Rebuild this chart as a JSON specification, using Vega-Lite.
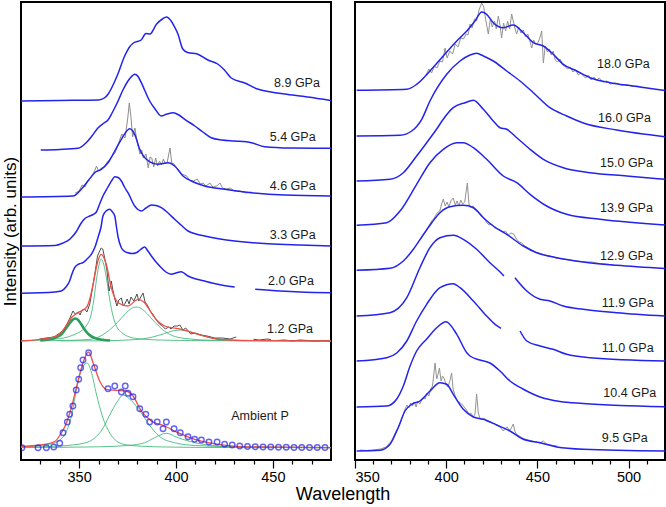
{
  "$schema": "https://vega.github.io/schema/vega-lite/v6.json",
  "padding": {"left": 0, "top": 1, "right": 1, "bottom": 2},
  "config": {
    "view": {"stroke": "black", "strokeWidth": 2},
    "font": "Liberation Sans",
    "axis": {"labelFont": "Liberation Sans", "titleFont": "Liberation Sans", "labelColor": "black", "titleColor": "black", "tickColor": "black"}
  },
  "title": {"text": "Wavelength", "orient": "bottom", "anchor": "middle", "fontSize": 18, "fontWeight": "normal", "font": "Liberation Sans", "color": "black", "offset": 1, "dx": 10},
  "spacing": 21,
  "datasets": {
    "L": [
      {"s":"8.9","k":"b","w":320,"i":358},{"s":"8.9","k":"b","w":340,"i":358.5},{"s":"8.9","k":"b","w":360,"i":359},{"s":"8.9","k":"b","w":363,"i":361},{"s":"8.9","k":"b","w":365,"i":365},{"s":"8.9","k":"b","w":368,"i":376},{"s":"8.9","k":"b","w":370,"i":385},{"s":"8.9","k":"b","w":373.5,"i":403},{"s":"8.9","k":"b","w":376,"i":412},{"s":"8.9","k":"b","w":378,"i":416},{"s":"8.9","k":"b","w":382,"i":419},{"s":"8.9","k":"b","w":384.5,"i":425.5},{"s":"8.9","k":"b","w":386.5,"i":425},{"s":"8.9","k":"b","w":390,"i":435},{"s":"8.9","k":"b","w":393,"i":440},{"s":"8.9","k":"b","w":395,"i":442},{"s":"8.9","k":"b","w":397.5,"i":438},{"s":"8.9","k":"b","w":399,"i":433},{"s":"8.9","k":"b","w":401,"i":425},{"s":"8.9","k":"b","w":403.5,"i":410},{"s":"8.9","k":"b","w":406,"i":406.5},{"s":"8.9","k":"b","w":411,"i":405},{"s":"8.9","k":"b","w":416.5,"i":399},{"s":"8.9","k":"b","w":421.5,"i":395},{"s":"8.9","k":"b","w":425,"i":389},{"s":"8.9","k":"b","w":428.5,"i":381},{"s":"8.9","k":"b","w":435.5,"i":376},{"s":"8.9","k":"b","w":442,"i":370},{"s":"8.9","k":"b","w":449,"i":367},{"s":"8.9","k":"b","w":456,"i":365},{"s":"8.9","k":"b","w":468,"i":362},{"s":"8.9","k":"b","w":480,"i":358.5},

      {"s":"5.4","k":"b","w":330.2,"i":309},{"s":"5.4","k":"b","w":340,"i":309.5},{"s":"5.4","k":"b","w":349.4,"i":310.7},{"s":"5.4","k":"b","w":353.5,"i":316},{"s":"5.4","k":"b","w":356.6,"i":323},{"s":"5.4","k":"b","w":359.7,"i":331},{"s":"5.4","k":"b","w":362.8,"i":336},{"s":"5.4","k":"b","w":364.9,"i":339},{"s":"5.4","k":"b","w":367,"i":346},{"s":"5.4","k":"b","w":370.1,"i":358},{"s":"5.4","k":"b","w":372.6,"i":369},{"s":"5.4","k":"b","w":375.2,"i":378},{"s":"5.4","k":"b","w":376.8,"i":382},{"s":"5.4","k":"b","w":378.7,"i":384.7},{"s":"5.4","k":"b","w":380.4,"i":382.5},{"s":"5.4","k":"b","w":382.1,"i":376.3},{"s":"5.4","k":"b","w":384,"i":368},{"s":"5.4","k":"b","w":386.4,"i":358},{"s":"5.4","k":"b","w":389.2,"i":350},{"s":"5.4","k":"b","w":392.4,"i":343},{"s":"5.4","k":"b","w":395.4,"i":345},{"s":"5.4","k":"b","w":398.5,"i":346.3},{"s":"5.4","k":"b","w":401.5,"i":344},{"s":"5.4","k":"b","w":404.5,"i":339.7},{"s":"5.4","k":"b","w":409.7,"i":333},{"s":"5.4","k":"b","w":413.9,"i":327},{"s":"5.4","k":"b","w":418.2,"i":321.3},{"s":"5.4","k":"b","w":423.7,"i":319},{"s":"5.4","k":"b","w":430.3,"i":318},{"s":"5.4","k":"b","w":438.9,"i":316.3},{"s":"5.4","k":"b","w":445.8,"i":312.3},{"s":"5.4","k":"b","w":458.8,"i":311},{"s":"5.4","k":"b","w":480,"i":310.7},

      {"s":"4.6","k":"b","w":320,"i":262},{"s":"4.6","k":"b","w":346.8,"i":263},{"s":"4.6","k":"b","w":351.1,"i":269.7},{"s":"4.6","k":"b","w":354.6,"i":278},{"s":"4.6","k":"b","w":358,"i":286.3},{"s":"4.6","k":"b","w":361.4,"i":289.7},{"s":"4.6","k":"b","w":364.9,"i":296.3},{"s":"4.6","k":"b","w":368.4,"i":308},{"s":"4.6","k":"b","w":371.8,"i":319.7},{"s":"4.6","k":"b","w":376.1,"i":330.3},{"s":"4.6","k":"b","w":378.7,"i":324.7},{"s":"4.6","k":"b","w":381.3,"i":309.7},{"s":"4.6","k":"b","w":384.7,"i":299.7},{"s":"4.6","k":"b","w":390.7,"i":294.7},{"s":"4.6","k":"b","w":395.9,"i":296.3},{"s":"4.6","k":"b","w":399.3,"i":293},{"s":"4.6","k":"b","w":403.6,"i":283},{"s":"4.6","k":"b","w":407.9,"i":278},{"s":"4.6","k":"b","w":414.8,"i":273},{"s":"4.6","k":"b","w":425.1,"i":269.7},{"s":"4.6","k":"b","w":438.9,"i":266.3},{"s":"4.6","k":"b","w":456.1,"i":264},{"s":"4.6","k":"b","w":480,"i":263},

      {"s":"4.6n","k":"n","w":348,"i":266},{"s":"4.6n","k":"n","w":350,"i":268},{"s":"4.6n","k":"n","w":351.5,"i":274},{"s":"4.6n","k":"n","w":353,"i":272},{"s":"4.6n","k":"n","w":354.5,"i":279},{"s":"4.6n","k":"n","w":356,"i":281},{"s":"4.6n","k":"n","w":357.5,"i":286},{"s":"4.6n","k":"n","w":359,"i":293},{"s":"4.6n","k":"n","w":360,"i":288},{"s":"4.6n","k":"n","w":361.5,"i":291},{"s":"4.6n","k":"n","w":363,"i":292},{"s":"4.6n","k":"n","w":364.5,"i":297},{"s":"4.6n","k":"n","w":366,"i":300},{"s":"4.6n","k":"n","w":367.5,"i":304},{"s":"4.6n","k":"n","w":368.5,"i":306},{"s":"4.6n","k":"n","w":370.2,"i":315},{"s":"4.6n","k":"n","w":372,"i":325},{"s":"4.6n","k":"n","w":373.7,"i":321},{"s":"4.6n","k":"n","w":375.1,"i":341},{"s":"4.6n","k":"n","w":375.9,"i":356},{"s":"4.6n","k":"n","w":376.8,"i":341},{"s":"4.6n","k":"n","w":377.6,"i":322},{"s":"4.6n","k":"n","w":378.8,"i":331},{"s":"4.6n","k":"n","w":379.8,"i":318},{"s":"4.6n","k":"n","w":381.4,"i":305},{"s":"4.6n","k":"n","w":382.3,"i":309},{"s":"4.6n","k":"n","w":383.1,"i":301},{"s":"4.6n","k":"n","w":384.5,"i":305},{"s":"4.6n","k":"n","w":385.7,"i":291},{"s":"4.6n","k":"n","w":386.6,"i":302},{"s":"4.6n","k":"n","w":387.5,"i":301},{"s":"4.6n","k":"n","w":388.5,"i":292},{"s":"4.6n","k":"n","w":389.5,"i":301},{"s":"4.6n","k":"n","w":390.5,"i":293},{"s":"4.6n","k":"n","w":391.5,"i":298},{"s":"4.6n","k":"n","w":392.5,"i":294},{"s":"4.6n","k":"n","w":393.5,"i":300},{"s":"4.6n","k":"n","w":394.5,"i":295},{"s":"4.6n","k":"n","w":395.5,"i":297},{"s":"4.6n","k":"n","w":396.9,"i":311},{"s":"4.6n","k":"n","w":397.8,"i":296},{"s":"4.6n","k":"n","w":399,"i":295},{"s":"4.6n","k":"n","w":400,"i":292},{"s":"4.6n","k":"n","w":401.5,"i":289},{"s":"4.6n","k":"n","w":403,"i":285},{"s":"4.6n","k":"n","w":405.5,"i":283},{"s":"4.6n","k":"n","w":407,"i":279},{"s":"4.6n","k":"n","w":409,"i":278},{"s":"4.6n","k":"n","w":411,"i":280},{"s":"4.6n","k":"n","w":412.5,"i":275},{"s":"4.6n","k":"n","w":414,"i":276},{"s":"4.6n","k":"n","w":415.5,"i":273},{"s":"4.6n","k":"n","w":417.5,"i":276},{"s":"4.6n","k":"n","w":419,"i":272},{"s":"4.6n","k":"n","w":421,"i":273},{"s":"4.6n","k":"n","w":422.7,"i":276},{"s":"4.6n","k":"n","w":424,"i":271},{"s":"4.6n","k":"n","w":426,"i":270},{"s":"4.6n","k":"n","w":428,"i":271},{"s":"4.6n","k":"n","w":430,"i":268},{"s":"4.6n","k":"n","w":433,"i":268},{"s":"4.6n","k":"n","w":436,"i":266},{"s":"4.6n","k":"n","w":439,"i":267},

      {"s":"3.3","k":"b","w":320,"i":213},{"s":"3.3","k":"b","w":337.5,"i":213.5},{"s":"3.3","k":"b","w":341.7,"i":216},{"s":"3.3","k":"b","w":345.3,"i":220},{"s":"3.3","k":"b","w":348.4,"i":227},{"s":"3.3","k":"b","w":351.1,"i":236},{"s":"3.3","k":"b","w":353,"i":240.5},{"s":"3.3","k":"b","w":355.5,"i":243},{"s":"3.3","k":"b","w":357.2,"i":244.5},{"s":"3.3","k":"b","w":358.9,"i":247},{"s":"3.3","k":"b","w":360.8,"i":256},{"s":"3.3","k":"b","w":362.3,"i":263},{"s":"3.3","k":"b","w":364.9,"i":272},{"s":"3.3","k":"b","w":367,"i":279},{"s":"3.3","k":"b","w":368.4,"i":282.3},{"s":"3.3","k":"b","w":370.1,"i":281.5},{"s":"3.3","k":"b","w":371.8,"i":278},{"s":"3.3","k":"b","w":373.4,"i":272},{"s":"3.3","k":"b","w":375.2,"i":266.3},{"s":"3.3","k":"b","w":378.7,"i":253},{"s":"3.3","k":"b","w":380.4,"i":249.5},{"s":"3.3","k":"b","w":382.1,"i":248},{"s":"3.3","k":"b","w":384.5,"i":251},{"s":"3.3","k":"b","w":387.3,"i":254},{"s":"3.3","k":"b","w":389.7,"i":253.5},{"s":"3.3","k":"b","w":392.4,"i":251.3},{"s":"3.3","k":"b","w":395.9,"i":246},{"s":"3.3","k":"b","w":399.3,"i":239.7},{"s":"3.3","k":"b","w":402.6,"i":234},{"s":"3.3","k":"b","w":406.2,"i":228},{"s":"3.3","k":"b","w":410.3,"i":225},{"s":"3.3","k":"b","w":414.8,"i":223},{"s":"3.3","k":"b","w":422.7,"i":220},{"s":"3.3","k":"b","w":430.3,"i":218},{"s":"3.3","k":"b","w":438.2,"i":216.5},{"s":"3.3","k":"b","w":447.5,"i":215.3},{"s":"3.3","k":"b","w":464,"i":214},{"s":"3.3","k":"b","w":480,"i":213},

      {"s":"2.0a","k":"b","w":320,"i":165.7},{"s":"2.0a","k":"b","w":337.5,"i":167},{"s":"2.0a","k":"b","w":340.8,"i":168},{"s":"2.0a","k":"b","w":343.2,"i":172},{"s":"2.0a","k":"b","w":345.1,"i":178},{"s":"2.0a","k":"b","w":346.3,"i":185},{"s":"2.0a","k":"b","w":347.7,"i":191.3},{"s":"2.0a","k":"b","w":349.9,"i":195},{"s":"2.0a","k":"b","w":352,"i":196.3},{"s":"2.0a","k":"b","w":354.1,"i":200},{"s":"2.0a","k":"b","w":356.3,"i":204.7},{"s":"2.0a","k":"b","w":358.2,"i":212},{"s":"2.0a","k":"b","w":359.7,"i":221.3},{"s":"2.0a","k":"b","w":361.3,"i":232},{"s":"2.0a","k":"b","w":362.3,"i":243},{"s":"2.0a","k":"b","w":363.9,"i":248},{"s":"2.0a","k":"b","w":365.8,"i":249.7},{"s":"2.0a","k":"b","w":367,"i":247.5},{"s":"2.0a","k":"b","w":368.4,"i":243},{"s":"2.0a","k":"b","w":369.2,"i":233},{"s":"2.0a","k":"b","w":370.1,"i":222},{"s":"2.0a","k":"b","w":371.8,"i":211.3},{"s":"2.0a","k":"b","w":373.2,"i":208},{"s":"2.0a","k":"b","w":375.2,"i":206.3},{"s":"2.0a","k":"b","w":377.3,"i":205.5},{"s":"2.0a","k":"b","w":379.5,"i":206.3},{"s":"2.0a","k":"b","w":381.4,"i":209},{"s":"2.0a","k":"b","w":383.8,"i":212},{"s":"2.0a","k":"b","w":385.5,"i":208},{"s":"2.0a","k":"b","w":387.3,"i":203},{"s":"2.0a","k":"b","w":389.7,"i":197},{"s":"2.0a","k":"b","w":392.4,"i":191.3},{"s":"2.0a","k":"b","w":394.8,"i":187},{"s":"2.0a","k":"b","w":397.6,"i":184.7},{"s":"2.0a","k":"b","w":400,"i":186},{"s":"2.0a","k":"b","w":402.7,"i":187.3},{"s":"2.0a","k":"b","w":406.2,"i":183},{"s":"2.0a","k":"b","w":410.3,"i":180},{"s":"2.0a","k":"b","w":414.8,"i":178},{"s":"2.0a","k":"b","w":418.6,"i":176},{"s":"2.0a","k":"b","w":423.4,"i":174},{"s":"2.0a","k":"b","w":430.3,"i":172},
      {"s":"2.0b","k":"b","w":440.9,"i":169.7},{"s":"2.0b","k":"b","w":453.7,"i":168},{"s":"2.0b","k":"b","w":464,"i":167},{"s":"2.0b","k":"b","w":480,"i":166.3},

      {"s":"G1","k":"gb","w":330,"i":118.5},{"s":"G1","k":"gb","w":334,"i":119.5},{"s":"G1","k":"gb","w":338,"i":121.5},{"s":"G1","k":"gb","w":341,"i":125},{"s":"G1","k":"gb","w":343,"i":130},{"s":"G1","k":"gb","w":345,"i":135.5},{"s":"G1","k":"gb","w":346.5,"i":139},{"s":"G1","k":"gb","w":348,"i":140.5},{"s":"G1","k":"gb","w":349.5,"i":139},{"s":"G1","k":"gb","w":351,"i":135},{"s":"G1","k":"gb","w":353,"i":129},{"s":"G1","k":"gb","w":355,"i":124.5},{"s":"G1","k":"gb","w":358,"i":121},{"s":"G1","k":"gb","w":362,"i":119.3},{"s":"G1","k":"gb","w":366,"i":118.5},

      {"s":"G2","k":"g","w":320,"i":118.2},{"s":"G2","k":"g","w":335,"i":119.5},{"s":"G2","k":"g","w":342,"i":121},{"s":"G2","k":"g","w":347,"i":124},{"s":"G2","k":"g","w":351,"i":128},{"s":"G2","k":"g","w":354,"i":134},{"s":"G2","k":"g","w":356,"i":143},{"s":"G2","k":"g","w":357.5,"i":158},{"s":"G2","k":"g","w":359,"i":180},{"s":"G2","k":"g","w":360.5,"i":196},{"s":"G2","k":"g","w":361.4,"i":200},{"s":"G2","k":"g","w":362.5,"i":196},{"s":"G2","k":"g","w":364,"i":182},{"s":"G2","k":"g","w":365.5,"i":163},{"s":"G2","k":"g","w":367,"i":147},{"s":"G2","k":"g","w":369,"i":134},{"s":"G2","k":"g","w":372,"i":126.5},{"s":"G2","k":"g","w":376,"i":122},{"s":"G2","k":"g","w":382,"i":120},{"s":"G2","k":"g","w":395,"i":118.8},{"s":"G2","k":"g","w":420,"i":118.3},{"s":"G2","k":"g","w":480,"i":118},

      {"s":"G3","k":"g","w":330,"i":118.3},{"s":"G3","k":"g","w":345,"i":118.7},{"s":"G3","k":"g","w":355,"i":119.5},{"s":"G3","k":"g","w":360,"i":122},{"s":"G3","k":"g","w":365,"i":128},{"s":"G3","k":"g","w":370,"i":137},{"s":"G3","k":"g","w":374,"i":145.5},{"s":"G3","k":"g","w":377,"i":150.5},{"s":"G3","k":"g","w":379.5,"i":152},{"s":"G3","k":"g","w":382,"i":150.5},{"s":"G3","k":"g","w":385,"i":145.5},{"s":"G3","k":"g","w":389,"i":137},{"s":"G3","k":"g","w":393,"i":129.5},{"s":"G3","k":"g","w":398,"i":123.5},{"s":"G3","k":"g","w":405,"i":120.5},{"s":"G3","k":"g","w":420,"i":118.7},{"s":"G3","k":"g","w":480,"i":118.2},

      {"s":"G4","k":"g","w":340,"i":118.1},{"s":"G4","k":"g","w":360,"i":118.2},{"s":"G4","k":"g","w":380,"i":119.5},{"s":"G4","k":"g","w":388,"i":122},{"s":"G4","k":"g","w":394,"i":125.5},{"s":"G4","k":"g","w":398,"i":128},{"s":"G4","k":"g","w":402,"i":129},{"s":"G4","k":"g","w":406,"i":128},{"s":"G4","k":"g","w":410,"i":125.5},{"s":"G4","k":"g","w":416,"i":122},{"s":"G4","k":"g","w":424,"i":119.6},{"s":"G4","k":"g","w":440,"i":118.5},{"s":"G4","k":"g","w":480,"i":118.2},

      {"s":"1.2nA","k":"k","w":329.5,"i":120},{"s":"1.2nA","k":"k","w":333,"i":121},{"s":"1.2nA","k":"k","w":337,"i":122},{"s":"1.2nA","k":"k","w":340,"i":126},{"s":"1.2nA","k":"k","w":342,"i":129},{"s":"1.2nA","k":"k","w":344,"i":136},{"s":"1.2nA","k":"k","w":345.5,"i":142},{"s":"1.2nA","k":"k","w":346.8,"i":148},{"s":"1.2nA","k":"k","w":348,"i":145},{"s":"1.2nA","k":"k","w":349.5,"i":147},{"s":"1.2nA","k":"k","w":350.5,"i":144},{"s":"1.2nA","k":"k","w":351.5,"i":149},{"s":"1.2nA","k":"k","w":352.9,"i":150},{"s":"1.2nA","k":"k","w":354,"i":147},{"s":"1.2nA","k":"k","w":355.5,"i":155},{"s":"1.2nA","k":"k","w":357,"i":172},{"s":"1.2nA","k":"k","w":358.5,"i":190},{"s":"1.2nA","k":"k","w":359.5,"i":203},{"s":"1.2nA","k":"k","w":360.6,"i":208},{"s":"1.2nA","k":"k","w":361.4,"i":211},{"s":"1.2nA","k":"k","w":362.2,"i":210},{"s":"1.2nA","k":"k","w":363.3,"i":200},{"s":"1.2nA","k":"k","w":364.4,"i":188},{"s":"1.2nA","k":"k","w":364.9,"i":178},{"s":"1.2nA","k":"k","w":365.5,"i":168},{"s":"1.2nA","k":"k","w":366.6,"i":178},{"s":"1.2nA","k":"k","w":367.3,"i":170},{"s":"1.2nA","k":"k","w":368.4,"i":160},{"s":"1.2nA","k":"k","w":369.5,"i":153},{"s":"1.2nA","k":"k","w":370.5,"i":159},{"s":"1.2nA","k":"k","w":371.8,"i":161},{"s":"1.2nA","k":"k","w":372.8,"i":153},{"s":"1.2nA","k":"k","w":373.8,"i":156},{"s":"1.2nA","k":"k","w":374.8,"i":160},{"s":"1.2nA","k":"k","w":375.8,"i":155},{"s":"1.2nA","k":"k","w":376.8,"i":162},{"s":"1.2nA","k":"k","w":378.2,"i":158},{"s":"1.2nA","k":"k","w":379.9,"i":165},{"s":"1.2nA","k":"k","w":380.8,"i":158},{"s":"1.2nA","k":"k","w":381.8,"i":162},{"s":"1.2nA","k":"k","w":383,"i":166},{"s":"1.2nA","k":"k","w":384,"i":157},{"s":"1.2nA","k":"k","w":385.2,"i":154},{"s":"1.2nA","k":"k","w":386.7,"i":148},{"s":"1.2nA","k":"k","w":388,"i":145},{"s":"1.2nA","k":"k","w":389.8,"i":139},{"s":"1.2nA","k":"k","w":391.5,"i":135},{"s":"1.2nA","k":"k","w":393,"i":133},{"s":"1.2nA","k":"k","w":394.5,"i":130},{"s":"1.2nA","k":"k","w":396.2,"i":132},{"s":"1.2nA","k":"k","w":397.5,"i":130},{"s":"1.2nA","k":"k","w":399,"i":133},{"s":"1.2nA","k":"k","w":400.7,"i":133},{"s":"1.2nA","k":"k","w":402,"i":134},{"s":"1.2nA","k":"k","w":403.5,"i":129},{"s":"1.2nA","k":"k","w":405,"i":131},{"s":"1.2nA","k":"k","w":407.6,"i":125},{"s":"1.2nA","k":"k","w":410,"i":126},{"s":"1.2nA","k":"k","w":413,"i":124},{"s":"1.2nA","k":"k","w":416,"i":123},{"s":"1.2nA","k":"k","w":420,"i":121},{"s":"1.2nA","k":"k","w":424,"i":121},{"s":"1.2nA","k":"k","w":428,"i":120},{"s":"1.2nA","k":"k","w":431.1,"i":122},
      {"s":"1.2nB","k":"k","w":440,"i":119.7},{"s":"1.2nB","k":"k","w":443,"i":119},{"s":"1.2nB","k":"k","w":447,"i":120},{"s":"1.2nB","k":"k","w":449,"i":119.5},
      {"s":"1.2nC","k":"k","w":452,"i":118.5},{"s":"1.2nC","k":"k","w":456,"i":119},{"s":"1.2nC","k":"k","w":460,"i":118},{"s":"1.2nC","k":"k","w":464,"i":119},{"s":"1.2nC","k":"k","w":468,"i":118.5},{"s":"1.2nC","k":"k","w":472,"i":118},{"s":"1.2nC","k":"k","w":476,"i":118.5},{"s":"1.2nC","k":"k","w":480,"i":118},

      {"s":"1.2","k":"r","w":320,"i":118},{"s":"1.2","k":"r","w":335.6,"i":121.3},{"s":"1.2","k":"r","w":340,"i":125},{"s":"1.2","k":"r","w":342.6,"i":131.3},{"s":"1.2","k":"r","w":346,"i":141.3},{"s":"1.2","k":"r","w":349.4,"i":146.3},{"s":"1.2","k":"r","w":353.7,"i":151.3},{"s":"1.2","k":"r","w":355.5,"i":160},{"s":"1.2","k":"r","w":357.2,"i":174.7},{"s":"1.2","k":"r","w":359.7,"i":198},{"s":"1.2","k":"r","w":361.4,"i":204.7},{"s":"1.2","k":"r","w":364,"i":194.7},{"s":"1.2","k":"r","w":366.6,"i":171.3},{"s":"1.2","k":"r","w":368.5,"i":161},{"s":"1.2","k":"r","w":370.1,"i":156.3},{"s":"1.2","k":"r","w":375.2,"i":153},{"s":"1.2","k":"r","w":380.4,"i":159.7},{"s":"1.2","k":"r","w":383.8,"i":156.3},{"s":"1.2","k":"r","w":386,"i":150},{"s":"1.2","k":"r","w":389,"i":141.3},{"s":"1.2","k":"r","w":394.2,"i":133},{"s":"1.2","k":"r","w":402.7,"i":129.7},{"s":"1.2","k":"r","w":411.4,"i":124.7},{"s":"1.2","k":"r","w":421.7,"i":119.7},{"s":"1.2","k":"r","w":440,"i":118.3},{"s":"1.2","k":"r","w":480,"i":118},

      {"s":"A1","k":"g","w":320,"i":12.3},{"s":"A1","k":"g","w":330,"i":13.5},{"s":"A1","k":"g","w":337.4,"i":16.3},{"s":"A1","k":"g","w":342.6,"i":24.5},{"s":"A1","k":"g","w":346,"i":43},{"s":"A1","k":"g","w":348.5,"i":68},{"s":"A1","k":"g","w":351,"i":88},{"s":"A1","k":"g","w":354.1,"i":96},{"s":"A1","k":"g","w":356.3,"i":87},{"s":"A1","k":"g","w":358.9,"i":65},{"s":"A1","k":"g","w":362.3,"i":41},{"s":"A1","k":"g","w":365.8,"i":26},{"s":"A1","k":"g","w":370,"i":17},{"s":"A1","k":"g","w":375,"i":14},{"s":"A1","k":"g","w":382,"i":12.8},{"s":"A1","k":"g","w":395,"i":12},{"s":"A1","k":"g","w":420,"i":11.5},{"s":"A1","k":"g","w":480,"i":11.3},

      {"s":"A2","k":"g","w":320,"i":11.8},{"s":"A2","k":"g","w":340,"i":13},{"s":"A2","k":"g","w":352.9,"i":16},{"s":"A2","k":"g","w":358,"i":21},{"s":"A2","k":"g","w":361.4,"i":28},{"s":"A2","k":"g","w":366.6,"i":47},{"s":"A2","k":"g","w":370.1,"i":58.5},{"s":"A2","k":"g","w":372.6,"i":64},{"s":"A2","k":"g","w":376.9,"i":58.5},{"s":"A2","k":"g","w":382.1,"i":46},{"s":"A2","k":"g","w":387.3,"i":31.3},{"s":"A2","k":"g","w":392.4,"i":21.3},{"s":"A2","k":"g","w":399.3,"i":16.3},{"s":"A2","k":"g","w":410,"i":13.5},{"s":"A2","k":"g","w":430,"i":12.2},{"s":"A2","k":"g","w":480,"i":11.5},

      {"s":"A3","k":"g","w":320,"i":11.4},{"s":"A3","k":"g","w":360,"i":12.2},{"s":"A3","k":"g","w":375,"i":13.5},{"s":"A3","k":"g","w":383.8,"i":16.3},{"s":"A3","k":"g","w":389,"i":21.3},{"s":"A3","k":"g","w":395,"i":25.7},{"s":"A3","k":"g","w":401,"i":21.3},{"s":"A3","k":"g","w":409.7,"i":16.3},{"s":"A3","k":"g","w":421.7,"i":13},{"s":"A3","k":"g","w":440,"i":11.8},{"s":"A3","k":"g","w":480,"i":11.4},

      {"s":"A","k":"r","w":320,"i":12.5},{"s":"A","k":"r","w":330,"i":14},{"s":"A","k":"r","w":337.4,"i":17.5},{"s":"A","k":"r","w":340.8,"i":26},{"s":"A","k":"r","w":343,"i":34},{"s":"A","k":"r","w":346,"i":51.3},{"s":"A","k":"r","w":349.4,"i":78},{"s":"A","k":"r","w":352,"i":96.3},{"s":"A","k":"r","w":354.9,"i":107},{"s":"A","k":"r","w":357.2,"i":96.3},{"s":"A","k":"r","w":360.6,"i":78},{"s":"A","k":"r","w":364,"i":69.7},{"s":"A","k":"r","w":369.2,"i":68.7},{"s":"A","k":"r","w":374.3,"i":68},{"s":"A","k":"r","w":377.8,"i":63},{"s":"A","k":"r","w":382.1,"i":48},{"s":"A","k":"r","w":387.3,"i":38},{"s":"A","k":"r","w":394.2,"i":33},{"s":"A","k":"r","w":401,"i":26.3},{"s":"A","k":"r","w":409.7,"i":19.7},{"s":"A","k":"r","w":421.7,"i":14.7},{"s":"A","k":"r","w":438.9,"i":12},{"s":"A","k":"r","w":480,"i":11.3}
    ],
    "C": [
      {"w":320.5,"i":11.3},{"w":328.8,"i":11.3},{"w":333.1,"i":11.3},{"w":336.9,"i":12},{"w":340,"i":15.7},{"w":341.7,"i":26.3},{"w":343.9,"i":37},{"w":345.1,"i":44.7},{"w":346.8,"i":53},{"w":348.5,"i":69},{"w":349.8,"i":79.7},{"w":350.8,"i":91.3},{"w":352,"i":99},{"w":354.9,"i":106.3},{"w":358,"i":91.3},{"w":364.9,"i":70.3},{"w":368.4,"i":73},{"w":371.8,"i":67},{"w":373.8,"i":73},{"w":375.2,"i":65.7},{"w":377.8,"i":62.3},{"w":381.3,"i":50.3},{"w":384.4,"i":44.7},{"w":386.4,"i":37},{"w":390.3,"i":37},{"w":393.3,"i":30.3},{"w":395,"i":37},{"w":399,"i":30.3},{"w":402.2,"i":26.3},{"w":406.2,"i":22.3},{"w":409.6,"i":19.7},{"w":413.1,"i":19},{"w":417,"i":17},{"w":421.2,"i":17},{"w":425.1,"i":14.7},{"w":429,"i":14},{"w":432.9,"i":13},{"w":436.9,"i":12.5},{"w":440.9,"i":12.3},{"w":444.9,"i":12},{"w":448.9,"i":12},{"w":452.9,"i":11.8},{"w":456.9,"i":11.8},{"w":460.9,"i":11.5},{"w":464.9,"i":11.5},{"w":468.9,"i":11.5},{"w":472.9,"i":11.5},{"w":476.9,"i":11.5}
    ],
    "TL": [
      {"t":"8.9 GPa","w":450.6,"i":376},{"t":"5.4 GPa","w":448.4,"i":322},{"t":"4.6 GPa","w":448.4,"i":273},{"t":"3.3 GPa","w":448.4,"i":224},{"t":"2.0 GPa","w":447.5,"i":178},{"t":"1.2 GPa","w":447,"i":130},{"t":"Ambient P","w":428.5,"i":43}
    ],
    "TR": [
      {"t":"18.0 GPa","w":482.7,"i":395},{"t":"16.0 GPa","w":483.3,"i":341},{"t":"15.0 GPa","w":484.4,"i":296},{"t":"13.9 GPa","w":484.4,"i":251},{"t":"12.9 GPa","w":484.4,"i":203},{"t":"11.9 GPa","w":485.3,"i":156},{"t":"11.0 GPa","w":485.3,"i":111},{"t":"10.4 GPa","w":486.2,"i":66},{"t":"9.5 GPa","w":485.3,"i":21}
    ],
    "R": [
      {"s":"18.0","k":"b","w":350.9,"i":368.7},{"s":"18.0","k":"b","w":378.4,"i":369.7},{"s":"18.0","k":"b","w":383.8,"i":374.7},{"s":"18.0","k":"b","w":391.1,"i":388},{"s":"18.0","k":"b","w":398.4,"i":403},{"s":"18.0","k":"b","w":405.8,"i":418},{"s":"18.0","k":"b","w":411.3,"i":428},{"s":"18.0","k":"b","w":415.8,"i":438},{"s":"18.0","k":"b","w":419.5,"i":447},{"s":"18.0","k":"b","w":422.2,"i":444.7},{"s":"18.0","k":"b","w":425.8,"i":436.3},{"s":"18.0","k":"b","w":431.3,"i":431.3},{"s":"18.0","k":"b","w":436.8,"i":434},{"s":"18.0","k":"b","w":442.3,"i":426.3},{"s":"18.0","k":"b","w":447.8,"i":416.3},{"s":"18.0","k":"b","w":453.3,"i":413},{"s":"18.0","k":"b","w":458.7,"i":404.7},{"s":"18.0","k":"b","w":464.2,"i":394.7},{"s":"18.0","k":"b","w":471.6,"i":388},{"s":"18.0","k":"b","w":478.9,"i":381.3},{"s":"18.0","k":"b","w":489.8,"i":376.3},{"s":"18.0","k":"b","w":502.6,"i":373},{"s":"18.0","k":"b","w":520,"i":368.5},

      {"s":"18.0n","k":"n","w":389,"i":384},{"s":"18.0n","k":"n","w":390.5,"i":390},{"s":"18.0n","k":"n","w":392,"i":386},{"s":"18.0n","k":"n","w":393.5,"i":393},{"s":"18.0n","k":"n","w":395,"i":391},{"s":"18.0n","k":"n","w":396.5,"i":398},{"s":"18.0n","k":"n","w":398,"i":397},{"s":"18.0n","k":"n","w":399.4,"i":411},{"s":"18.0n","k":"n","w":400.5,"i":401},{"s":"18.0n","k":"n","w":402,"i":408},{"s":"18.0n","k":"n","w":403.5,"i":405},{"s":"18.0n","k":"n","w":405,"i":415},{"s":"18.0n","k":"n","w":406.5,"i":412},{"s":"18.0n","k":"n","w":408,"i":421},{"s":"18.0n","k":"n","w":409.5,"i":420},{"s":"18.0n","k":"n","w":411,"i":425},{"s":"18.0n","k":"n","w":412,"i":424},{"s":"18.0n","k":"n","w":413.1,"i":435},{"s":"18.0n","k":"n","w":414.2,"i":431},{"s":"18.0n","k":"n","w":415.5,"i":440},{"s":"18.0n","k":"n","w":416.7,"i":438},{"s":"18.0n","k":"n","w":418,"i":449},{"s":"18.0n","k":"n","w":419.5,"i":456},{"s":"18.0n","k":"n","w":420.6,"i":452},{"s":"18.0n","k":"n","w":421.6,"i":440},{"s":"18.0n","k":"n","w":423.1,"i":425},{"s":"18.0n","k":"n","w":424.2,"i":440},{"s":"18.0n","k":"n","w":425.3,"i":432},{"s":"18.0n","k":"n","w":426.5,"i":438},{"s":"18.0n","k":"n","w":427.5,"i":430},{"s":"18.0n","k":"n","w":428.6,"i":443},{"s":"18.0n","k":"n","w":429.5,"i":434},{"s":"18.0n","k":"n","w":430.4,"i":421},{"s":"18.0n","k":"n","w":431.5,"i":436},{"s":"18.0n","k":"n","w":432.6,"i":428},{"s":"18.0n","k":"n","w":433.7,"i":438},{"s":"18.0n","k":"n","w":434.8,"i":430},{"s":"18.0n","k":"n","w":435.9,"i":445},{"s":"18.0n","k":"n","w":436.9,"i":437},{"s":"18.0n","k":"n","w":437.8,"i":430},{"s":"18.0n","k":"n","w":438.7,"i":425},{"s":"18.0n","k":"n","w":439.8,"i":432},{"s":"18.0n","k":"n","w":441,"i":426},{"s":"18.0n","k":"n","w":442.3,"i":429},{"s":"18.0n","k":"n","w":443.5,"i":422},{"s":"18.0n","k":"n","w":444.8,"i":425},{"s":"18.0n","k":"n","w":445.9,"i":418},{"s":"18.0n","k":"n","w":446.9,"i":411},{"s":"18.0n","k":"n","w":448,"i":419},{"s":"18.0n","k":"n","w":449.3,"i":414},{"s":"18.0n","k":"n","w":450.5,"i":417},{"s":"18.0n","k":"n","w":451.5,"i":422},{"s":"18.0n","k":"n","w":452.4,"i":428},{"s":"18.0n","k":"n","w":453.3,"i":396},{"s":"18.0n","k":"n","w":454.3,"i":413},{"s":"18.0n","k":"n","w":455.5,"i":407},{"s":"18.0n","k":"n","w":456.6,"i":410},{"s":"18.0n","k":"n","w":457.6,"i":404},{"s":"18.0n","k":"n","w":458.7,"i":408},{"s":"18.0n","k":"n","w":459.8,"i":399},{"s":"18.0n","k":"n","w":461,"i":397},{"s":"18.0n","k":"n","w":462.5,"i":400},{"s":"18.0n","k":"n","w":463.8,"i":394},{"s":"18.0n","k":"n","w":465,"i":393},{"s":"18.0n","k":"n","w":466.5,"i":390},{"s":"18.0n","k":"n","w":468,"i":392},{"s":"18.0n","k":"n","w":469.5,"i":387},{"s":"18.0n","k":"n","w":471,"i":389},{"s":"18.0n","k":"n","w":472.5,"i":384},{"s":"18.0n","k":"n","w":474,"i":386},{"s":"18.0n","k":"n","w":475.2,"i":383},{"s":"18.0n","k":"n","w":476.5,"i":381},{"s":"18.0n","k":"n","w":478,"i":384},{"s":"18.0n","k":"n","w":479.5,"i":379},{"s":"18.0n","k":"n","w":481,"i":382},{"s":"18.0n","k":"n","w":482.5,"i":379},{"s":"18.0n","k":"n","w":484,"i":381},{"s":"18.0n","k":"n","w":486,"i":377},{"s":"18.0n","k":"n","w":488,"i":378},{"s":"18.0n","k":"n","w":490,"i":375},{"s":"18.0n","k":"n","w":493,"i":376},{"s":"18.0n","k":"n","w":496,"i":374},{"s":"18.0n","k":"n","w":499,"i":374.5},{"s":"18.0n","k":"n","w":502,"i":372.5},{"s":"18.0n","k":"n","w":505,"i":373},{"s":"18.0n","k":"n","w":508,"i":371},

      {"s":"16.0","k":"b","w":350.9,"i":323},{"s":"16.0","k":"b","w":374.7,"i":323.7},{"s":"16.0","k":"b","w":381.1,"i":328},{"s":"16.0","k":"b","w":386.6,"i":339.7},{"s":"16.0","k":"b","w":391.1,"i":358},{"s":"16.0","k":"b","w":400.3,"i":384.7},{"s":"16.0","k":"b","w":407.6,"i":398},{"s":"16.0","k":"b","w":413.1,"i":404},{"s":"16.0","k":"b","w":416.7,"i":405.7},{"s":"16.0","k":"b","w":420.4,"i":403},{"s":"16.0","k":"b","w":425.8,"i":398},{"s":"16.0","k":"b","w":433.2,"i":388},{"s":"16.0","k":"b","w":440.5,"i":378},{"s":"16.0","k":"b","w":447.8,"i":366.3},{"s":"16.0","k":"b","w":456.9,"i":351.3},{"s":"16.0","k":"b","w":466.1,"i":343},{"s":"16.0","k":"b","w":475.2,"i":336},{"s":"16.0","k":"b","w":493.5,"i":329},{"s":"16.0","k":"b","w":520,"i":322.3},

      {"s":"15.0","k":"b","w":350.9,"i":278},{"s":"15.0","k":"b","w":369.2,"i":279.7},{"s":"15.0","k":"b","w":376.5,"i":286.3},{"s":"15.0","k":"b","w":383.8,"i":303},{"s":"15.0","k":"b","w":389.3,"i":316.3},{"s":"15.0","k":"b","w":394.8,"i":330},{"s":"15.0","k":"b","w":398.5,"i":340},{"s":"15.0","k":"b","w":403.9,"i":351.3},{"s":"15.0","k":"b","w":410.3,"i":356.3},{"s":"15.0","k":"b","w":414.9,"i":358.7},{"s":"15.0","k":"b","w":420.4,"i":349.7},{"s":"15.0","k":"b","w":425.8,"i":338},{"s":"15.0","k":"b","w":429.5,"i":331.3},{"s":"15.0","k":"b","w":433.2,"i":329.7},{"s":"15.0","k":"b","w":438.7,"i":321.3},{"s":"15.0","k":"b","w":446,"i":309.7},{"s":"15.0","k":"b","w":453.3,"i":299.7},{"s":"15.0","k":"b","w":464.2,"i":291.3},{"s":"15.0","k":"b","w":478.9,"i":286.3},{"s":"15.0","k":"b","w":499,"i":283},{"s":"15.0","k":"b","w":520,"i":279.7},

      {"s":"13.9","k":"b","w":350.9,"i":233.7},{"s":"13.9","k":"b","w":367.4,"i":236.3},{"s":"13.9","k":"b","w":374.7,"i":248},{"s":"13.9","k":"b","w":383.8,"i":274.7},{"s":"13.9","k":"b","w":391.1,"i":296.3},{"s":"13.9","k":"b","w":398.4,"i":309.7},{"s":"13.9","k":"b","w":405.8,"i":316.3},{"s":"13.9","k":"b","w":409.4,"i":316.3},{"s":"13.9","k":"b","w":414.9,"i":311.3},{"s":"13.9","k":"b","w":422.2,"i":299.7},{"s":"13.9","k":"b","w":431.3,"i":283},{"s":"13.9","k":"b","w":438.7,"i":276.3},{"s":"13.9","k":"b","w":446,"i":264.7},{"s":"13.9","k":"b","w":455.1,"i":253},{"s":"13.9","k":"b","w":466.1,"i":244.7},{"s":"13.9","k":"b","w":484.4,"i":239.7},{"s":"13.9","k":"b","w":520,"i":234},

      {"s":"12.9n","k":"n","w":389,"i":229},{"s":"12.9n","k":"n","w":390.5,"i":233},{"s":"12.9n","k":"n","w":392,"i":238},{"s":"12.9n","k":"n","w":393.5,"i":241},{"s":"12.9n","k":"n","w":395,"i":246},{"s":"12.9n","k":"n","w":396.5,"i":248},{"s":"12.9n","k":"n","w":397.5,"i":255},{"s":"12.9n","k":"n","w":398.4,"i":260},{"s":"12.9n","k":"n","w":399.5,"i":253},{"s":"12.9n","k":"n","w":400.5,"i":257},{"s":"12.9n","k":"n","w":401.5,"i":252},{"s":"12.9n","k":"n","w":402.5,"i":258},{"s":"12.9n","k":"n","w":403.9,"i":261},{"s":"12.9n","k":"n","w":405,"i":254},{"s":"12.9n","k":"n","w":406,"i":258},{"s":"12.9n","k":"n","w":407,"i":253},{"s":"12.9n","k":"n","w":408,"i":259},{"s":"12.9n","k":"n","w":409,"i":255},{"s":"12.9n","k":"n","w":410.2,"i":257},{"s":"12.9n","k":"n","w":411.6,"i":276},{"s":"12.9n","k":"n","w":412.5,"i":255},{"s":"12.9n","k":"n","w":413.5,"i":252},{"s":"12.9n","k":"n","w":414.8,"i":253},{"s":"12.9n","k":"n","w":416,"i":249},{"s":"12.9n","k":"n","w":417.5,"i":247},{"s":"12.9n","k":"n","w":419,"i":243},{"s":"12.9n","k":"n","w":420.5,"i":241},{"s":"12.9n","k":"n","w":422,"i":237},{"s":"12.9n","k":"n","w":423.5,"i":234},{"s":"12.9n","k":"n","w":425,"i":235},{"s":"12.9n","k":"n","w":426.5,"i":231},{"s":"12.9n","k":"n","w":428,"i":230},{"s":"12.9n","k":"n","w":429.5,"i":229},{"s":"12.9n","k":"n","w":431,"i":227},{"s":"12.9n","k":"n","w":432.5,"i":228},{"s":"12.9n","k":"n","w":434,"i":224},{"s":"12.9n","k":"n","w":435.5,"i":226},{"s":"12.9n","k":"n","w":437,"i":225},{"s":"12.9n","k":"n","w":438.5,"i":220},{"s":"12.9n","k":"n","w":440,"i":217},{"s":"12.9n","k":"n","w":441.5,"i":216},{"s":"12.9n","k":"n","w":443,"i":213},{"s":"12.9n","k":"n","w":445,"i":211},{"s":"12.9n","k":"n","w":447,"i":209},{"s":"12.9n","k":"n","w":449,"i":207},{"s":"12.9n","k":"n","w":451,"i":206},{"s":"12.9n","k":"n","w":454,"i":204},{"s":"12.9n","k":"n","w":457,"i":203},{"s":"12.9n","k":"n","w":460,"i":201},{"s":"12.9n","k":"n","w":464,"i":200},{"s":"12.9n","k":"n","w":468,"i":199},{"s":"12.9n","k":"n","w":472,"i":198},{"s":"12.9n","k":"n","w":476,"i":197},{"s":"12.9n","k":"n","w":480,"i":197},{"s":"12.9n","k":"n","w":484,"i":195.5},{"s":"12.9n","k":"n","w":488,"i":195},{"s":"12.9n","k":"n","w":492,"i":194},

      {"s":"12.9","k":"b","w":350.9,"i":188.7},{"s":"12.9","k":"b","w":369.2,"i":190.7},{"s":"12.9","k":"b","w":376.5,"i":198},{"s":"12.9","k":"b","w":382,"i":209.7},{"s":"12.9","k":"b","w":386.6,"i":222},{"s":"12.9","k":"b","w":392.1,"i":236.3},{"s":"12.9","k":"b","w":396.6,"i":246.3},{"s":"12.9","k":"b","w":402.1,"i":252.3},{"s":"12.9","k":"b","w":409.4,"i":253.7},{"s":"12.9","k":"b","w":414.9,"i":251.3},{"s":"12.9","k":"b","w":420.4,"i":241.3},{"s":"12.9","k":"b","w":425.8,"i":233},{"s":"12.9","k":"b","w":433.2,"i":224.7},{"s":"12.9","k":"b","w":442.3,"i":213},{"s":"12.9","k":"b","w":449.6,"i":206.3},{"s":"12.9","k":"b","w":460.6,"i":201.3},{"s":"12.9","k":"b","w":475.2,"i":197},{"s":"12.9","k":"b","w":493.5,"i":193.7},{"s":"12.9","k":"b","w":520,"i":190.5},

      {"s":"11.9a","k":"b","w":350.9,"i":143},{"s":"11.9a","k":"b","w":369.2,"i":146.3},{"s":"11.9a","k":"b","w":378.4,"i":161.3},{"s":"11.9a","k":"b","w":385.6,"i":191.3},{"s":"11.9a","k":"b","w":391.1,"i":211.3},{"s":"11.9a","k":"b","w":396.6,"i":221.3},{"s":"11.9a","k":"b","w":403.9,"i":223.7},{"s":"11.9a","k":"b","w":409.4,"i":219.7},{"s":"11.9a","k":"b","w":416.7,"i":209.7},{"s":"11.9a","k":"b","w":424,"i":196.3},{"s":"11.9a","k":"b","w":428.6,"i":188.7},{"s":"11.9a","k":"b","w":431.7,"i":183},
      {"s":"11.9b","k":"b","w":437.7,"i":181.3},{"s":"11.9b","k":"b","w":444.2,"i":168},{"s":"11.9b","k":"b","w":451.5,"i":159.7},{"s":"11.9b","k":"b","w":456.9,"i":158},{"s":"11.9b","k":"b","w":464.2,"i":153},{"s":"11.9b","k":"b","w":475.2,"i":149.7},{"s":"11.9b","k":"b","w":493.5,"i":146.3},{"s":"11.9b","k":"b","w":520,"i":143},

      {"s":"11.0a","k":"b","w":350.9,"i":98},{"s":"11.0a","k":"b","w":367.4,"i":101.3},{"s":"11.0a","k":"b","w":372.9,"i":106},{"s":"11.0a","k":"b","w":378.4,"i":118},{"s":"11.0a","k":"b","w":383.8,"i":138},{"s":"11.0a","k":"b","w":389.3,"i":154.7},{"s":"11.0a","k":"b","w":396.6,"i":171.3},{"s":"11.0a","k":"b","w":403.9,"i":175.3},{"s":"11.0a","k":"b","w":407.6,"i":171.3},{"s":"11.0a","k":"b","w":414.9,"i":158},{"s":"11.0a","k":"b","w":422.2,"i":143},{"s":"11.0a","k":"b","w":426.8,"i":134.7},{"s":"11.0a","k":"b","w":430.1,"i":130.7},
      {"s":"11.0b","k":"b","w":440.5,"i":128},{"s":"11.0b","k":"b","w":444.2,"i":118},{"s":"11.0b","k":"b","w":451.5,"i":113},{"s":"11.0b","k":"b","w":458.7,"i":109.7},{"s":"11.0b","k":"b","w":466.1,"i":104.7},{"s":"11.0b","k":"b","w":478.9,"i":101.3},{"s":"11.0b","k":"b","w":520,"i":98},

      {"s":"10.4","k":"b","w":350.9,"i":52},{"s":"10.4","k":"b","w":367.4,"i":53},{"s":"10.4","k":"b","w":372.9,"i":60},{"s":"10.4","k":"b","w":376.5,"i":73},{"s":"10.4","k":"b","w":380.2,"i":93},{"s":"10.4","k":"b","w":383.8,"i":108},{"s":"10.4","k":"b","w":389.3,"i":120},{"s":"10.4","k":"b","w":394.8,"i":131.3},{"s":"10.4","k":"b","w":399.9,"i":137.3},{"s":"10.4","k":"b","w":405.8,"i":124.7},{"s":"10.4","k":"b","w":411.3,"i":106.3},{"s":"10.4","k":"b","w":413.1,"i":103},{"s":"10.4","k":"b","w":418.5,"i":99},{"s":"10.4","k":"b","w":424,"i":96},{"s":"10.4","k":"b","w":429.5,"i":88},{"s":"10.4","k":"b","w":435,"i":78},{"s":"10.4","k":"b","w":442.1,"i":70},{"s":"10.4","k":"b","w":451.5,"i":62},{"s":"10.4","k":"b","w":462.4,"i":57.5},{"s":"10.4","k":"b","w":475,"i":55.5},{"s":"10.4","k":"b","w":495.3,"i":53.5},{"s":"10.4","k":"b","w":520,"i":52.3},

      {"s":"9.5n","k":"n","w":352.7,"i":9},{"s":"9.5n","k":"n","w":356,"i":8.5},{"s":"9.5n","k":"n","w":360,"i":9},{"s":"9.5n","k":"n","w":364,"i":10},{"s":"9.5n","k":"n","w":367,"i":12},{"s":"9.5n","k":"n","w":370,"i":18},{"s":"9.5n","k":"n","w":372,"i":26},{"s":"9.5n","k":"n","w":374,"i":33},{"s":"9.5n","k":"n","w":376,"i":42},{"s":"9.5n","k":"n","w":377.5,"i":50},{"s":"9.5n","k":"n","w":378.5,"i":54},{"s":"9.5n","k":"n","w":379.5,"i":51},{"s":"9.5n","k":"n","w":380.5,"i":56},{"s":"9.5n","k":"n","w":381.5,"i":53},{"s":"9.5n","k":"n","w":382.5,"i":57},{"s":"9.5n","k":"n","w":383.5,"i":52},{"s":"9.5n","k":"n","w":384.5,"i":58},{"s":"9.5n","k":"n","w":385.6,"i":55},{"s":"9.5n","k":"n","w":386.5,"i":59},{"s":"9.5n","k":"n","w":387.5,"i":61},{"s":"9.5n","k":"n","w":388.5,"i":60},{"s":"9.5n","k":"n","w":389.5,"i":66},{"s":"9.5n","k":"n","w":390.5,"i":63},{"s":"9.5n","k":"n","w":391.5,"i":70},{"s":"9.5n","k":"n","w":392.5,"i":73},{"s":"9.5n","k":"n","w":393.9,"i":96},{"s":"9.5n","k":"n","w":394.8,"i":80},{"s":"9.5n","k":"n","w":395.6,"i":85},{"s":"9.5n","k":"n","w":396.3,"i":91},{"s":"9.5n","k":"n","w":397.2,"i":78},{"s":"9.5n","k":"n","w":398,"i":83},{"s":"9.5n","k":"n","w":399,"i":80},{"s":"9.5n","k":"n","w":400,"i":74},{"s":"9.5n","k":"n","w":401,"i":72},{"s":"9.5n","k":"n","w":402,"i":78},{"s":"9.5n","k":"n","w":403,"i":86},{"s":"9.5n","k":"n","w":403.8,"i":70},{"s":"9.5n","k":"n","w":404.8,"i":64},{"s":"9.5n","k":"n","w":405.8,"i":59},{"s":"9.5n","k":"n","w":407,"i":57},{"s":"9.5n","k":"n","w":408.5,"i":55},{"s":"9.5n","k":"n","w":410.3,"i":51},{"s":"9.5n","k":"n","w":411.5,"i":48},{"s":"9.5n","k":"n","w":412.5,"i":45},{"s":"9.5n","k":"n","w":413.5,"i":46},{"s":"9.5n","k":"n","w":414.9,"i":42},{"s":"9.5n","k":"n","w":415.8,"i":45},{"s":"9.5n","k":"n","w":416.7,"i":65},{"s":"9.5n","k":"n","w":417.6,"i":46},{"s":"9.5n","k":"n","w":418.5,"i":41},{"s":"9.5n","k":"n","w":419.5,"i":39},{"s":"9.5n","k":"n","w":420.5,"i":41},{"s":"9.5n","k":"n","w":422,"i":38},{"s":"9.5n","k":"n","w":423.5,"i":37},{"s":"9.5n","k":"n","w":425,"i":36},{"s":"9.5n","k":"n","w":426.5,"i":35},{"s":"9.5n","k":"n","w":428,"i":34},{"s":"9.5n","k":"n","w":429.5,"i":32},{"s":"9.5n","k":"n","w":431.3,"i":28},{"s":"9.5n","k":"n","w":432.5,"i":31},{"s":"9.5n","k":"n","w":433.5,"i":32},{"s":"9.5n","k":"n","w":434.5,"i":29},{"s":"9.5n","k":"n","w":435.5,"i":30},{"s":"9.5n","k":"n","w":436.8,"i":35},{"s":"9.5n","k":"n","w":437.8,"i":27},{"s":"9.5n","k":"n","w":439,"i":24},{"s":"9.5n","k":"n","w":441,"i":22},{"s":"9.5n","k":"n","w":443,"i":20},{"s":"9.5n","k":"n","w":445,"i":19},{"s":"9.5n","k":"n","w":447,"i":18},{"s":"9.5n","k":"n","w":449.5,"i":17},{"s":"9.5n","k":"n","w":451.5,"i":16},{"s":"9.5n","k":"n","w":453.3,"i":18},{"s":"9.5n","k":"n","w":455,"i":15},{"s":"9.5n","k":"n","w":457,"i":14},{"s":"9.5n","k":"n","w":459,"i":13.5},{"s":"9.5n","k":"n","w":461,"i":13},

      {"s":"9.5","k":"b","w":350.9,"i":8},{"s":"9.5","k":"b","w":363.7,"i":8.7},{"s":"9.5","k":"b","w":369.2,"i":14.7},{"s":"9.5","k":"b","w":373.7,"i":31.3},{"s":"9.5","k":"b","w":377.4,"i":48},{"s":"9.5","k":"b","w":381.1,"i":54.7},{"s":"9.5","k":"b","w":385.6,"i":58},{"s":"9.5","k":"b","w":391.1,"i":68},{"s":"9.5","k":"b","w":396.6,"i":76.3},{"s":"9.5","k":"b","w":400.3,"i":74.7},{"s":"9.5","k":"b","w":403.9,"i":64.7},{"s":"9.5","k":"b","w":409.4,"i":49.7},{"s":"9.5","k":"b","w":414.9,"i":42},{"s":"9.5","k":"b","w":420.4,"i":39.7},{"s":"9.5","k":"b","w":427.7,"i":34},{"s":"9.5","k":"b","w":435,"i":28},{"s":"9.5","k":"b","w":442.3,"i":19.7},{"s":"9.5","k":"b","w":451.5,"i":16.3},{"s":"9.5","k":"b","w":460.6,"i":12},{"s":"9.5","k":"b","w":475.2,"i":9.7},{"s":"9.5","k":"b","w":520,"i":8}
    ]
  },
  "hconcat": [
    {
      "width": 310,
      "height": 458,
      "resolve": {"scale": {"x": "shared", "y": "shared"}, "axis": {"x": "independent", "y": "independent"}},
      "layer": [
        {
          "encoding": {
            "x": {"field": "w", "type": "quantitative", "scale": {"domain": [320, 480], "nice": false, "zero": false},
                  "axis": {"values": [350, 400, 450], "title": null, "orient": "bottom", "domain": false, "grid": false, "tickSize": 8, "tickWidth": 1.2, "labelFontSize": 14.5, "labelPadding": 2}},
            "y": {"field": "i", "type": "quantitative", "scale": {"domain": [-1, 457], "nice": false, "zero": false},
                  "axis": {"title": "Intensity (arb. units)", "labels": false, "ticks": false, "domain": false, "grid": false, "titleFontSize": 17, "titleFontWeight": "normal", "titlePadding": 2}}
          },
          "layer": [
            {"data": {"name": "L"}, "transform": [{"filter": "datum.k == 'g'"}], "mark": {"type": "line", "color": "#3cb878", "strokeWidth": 1, "opacity": 0.85, "interpolate": "monotone", "clip": true}, "encoding": {"detail": {"field": "s"}}},
            {"data": {"name": "L"}, "transform": [{"filter": "datum.k == 'gb'"}], "mark": {"type": "line", "color": "#2a9e5a", "strokeWidth": 2.6, "interpolate": "monotone", "clip": true}, "encoding": {"detail": {"field": "s"}}},
            {"data": {"name": "L"}, "transform": [{"filter": "datum.k == 'k'"}], "mark": {"type": "line", "color": "#4d4d4d", "strokeWidth": 1, "clip": true}, "encoding": {"detail": {"field": "s"}}},
            {"data": {"name": "L"}, "transform": [{"filter": "datum.k == 'n'"}], "mark": {"type": "line", "color": "#8c8c8c", "strokeWidth": 1, "clip": true}, "encoding": {"detail": {"field": "s"}}},
            {"data": {"name": "L"}, "transform": [{"filter": "datum.k == 'r'"}], "mark": {"type": "line", "color": "#ef4f47", "strokeWidth": 1.3, "interpolate": "monotone", "clip": true}, "encoding": {"detail": {"field": "s"}}},
            {"data": {"name": "L"}, "transform": [{"filter": "datum.k == 'b'"}], "mark": {"type": "line", "color": "#2323ee", "strokeWidth": 1.5, "interpolate": "monotone", "clip": true}, "encoding": {"detail": {"field": "s"}}},
            {"data": {"name": "C"}, "mark": {"type": "point", "shape": "circle", "filled": false, "color": "#2323ee", "size": 30, "strokeWidth": 1.4, "clip": true}}
          ]
        },
        {
          "data": {"name": "TL"},
          "mark": {"type": "text", "align": "left", "baseline": "middle", "fontSize": 12.5, "font": "Liberation Sans", "color": "#1a1a1a"},
          "encoding": {
            "x": {"field": "w", "type": "quantitative", "axis": {"values": [330, 340, 360, 370, 380, 390, 410, 420, 430, 440, 460, 470], "orient": "bottom", "title": null, "labels": false, "domain": false, "grid": false, "tickSize": 4, "tickWidth": 1.2}},
            "y": {"field": "i", "type": "quantitative", "axis": null},
            "text": {"field": "t"}
          }
        }
      ]
    },
    {
      "width": 310,
      "height": 458,
      "resolve": {"scale": {"x": "shared", "y": "shared"}, "axis": {"x": "independent"}},
      "layer": [
        {
          "encoding": {
            "x": {"field": "w", "type": "quantitative", "scale": {"domain": [350, 520], "nice": false, "zero": false},
                  "axis": {"values": [350, 400, 450, 500], "title": null, "orient": "bottom", "domain": false, "grid": false, "tickSize": 8, "tickWidth": 1.2, "labelFontSize": 14.5, "labelPadding": 2}},
            "y": {"field": "i", "type": "quantitative", "scale": {"domain": [-1, 457], "nice": false, "zero": false}, "axis": null}
          },
          "layer": [
            {"data": {"name": "R"}, "transform": [{"filter": "datum.k == 'n'"}], "mark": {"type": "line", "color": "#939393", "strokeWidth": 1, "clip": true}, "encoding": {"detail": {"field": "s"}}},
            {"data": {"name": "R"}, "transform": [{"filter": "datum.k == 'b'"}], "mark": {"type": "line", "color": "#2323ee", "strokeWidth": 1.5, "interpolate": "monotone", "clip": true}, "encoding": {"detail": {"field": "s"}}}
          ]
        },
        {
          "data": {"name": "TR"},
          "mark": {"type": "text", "align": "left", "baseline": "middle", "fontSize": 12.5, "font": "Liberation Sans", "color": "#1a1a1a"},
          "encoding": {
            "x": {"field": "w", "type": "quantitative", "axis": {"values": [360, 370, 380, 390, 410, 420, 430, 440, 460, 470, 480, 490, 510], "orient": "bottom", "title": null, "labels": false, "domain": false, "grid": false, "tickSize": 4, "tickWidth": 1.2}},
            "y": {"field": "i", "type": "quantitative", "axis": null},
            "text": {"field": "t"}
          }
        }
      ]
    }
  ]
}
